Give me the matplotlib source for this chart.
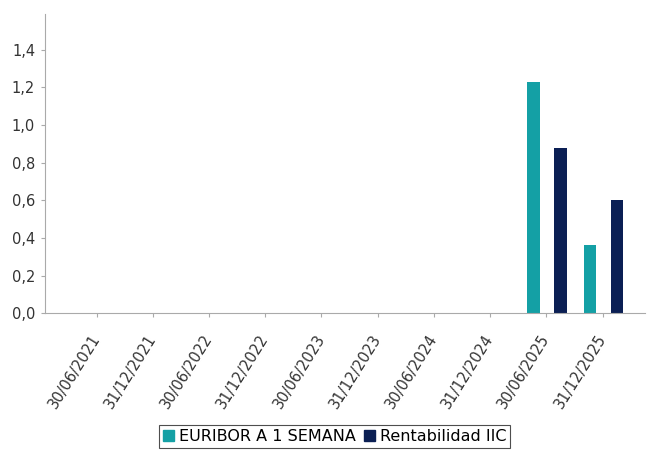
import matplotlib.pyplot as plt
import numpy as np
from matplotlib.patches import Patch

fechas = ["30/06/2021", "31/12/2021", "30/06/2022", "31/12/2022", "30/06/2023",
          "31/12/2023", "30/06/2024", "31/12/2024", "30/06/2025", "31/12/2025"]
euribor = [0, 0, 0, 0, 0, 0, 0, 0, 1.23, 0.36]
rentabilidad = [0, 0, 0, 0, 0, 0, 0, 0, 0.88, 0.60]
yticks = [0.0, 0.2, 0.4, 0.6, 0.8, 1.0, 1.2, 1.4]

c_euribor = "#14a0a5"
c_rent = "#0b1f54"

fig = plt.figure(figsize=(6.5, 4.5), dpi=100)
ax = fig.add_axes([0.069, 0.304, 0.923, 0.665])

x = np.arange(len(fechas))
# no dibujar barras de valor cero
for xi, v in zip(x, euribor):
    if v != 0:
        ax.bar(xi - 0.23, v, width=0.22, color=c_euribor)
for xi, v in zip(x, rentabilidad):
    if v != 0:
        ax.bar(xi + 0.25, v, width=0.22, color=c_rent)

ax.set_xlim(-0.92, 9.75)
ax.set_ylim(0, 1.59)
ax.set_yticks(yticks)
ax.set_yticklabels([f"{t:.1f}".replace(".", ",") for t in yticks], fontsize=10.5, color="#333333")
ax.set_xticks(x)
ax.set_xticklabels(fechas, rotation=58, ha="right", va="center",
                   rotation_mode="anchor", fontsize=10.5, color="#333333")

for s in ["top", "right"]:
    ax.spines[s].set_visible(False)
for s in ["left", "bottom"]:
    ax.spines[s].set_color("#aaaaaa")
    ax.spines[s].set_linewidth(0.8)
ax.tick_params(axis="both", color="#aaaaaa", length=3, width=0.8)
ax.tick_params(axis="x", pad=13)
ax.tick_params(axis="y", pad=4)

handles = [Patch(color=c_euribor, label="EURIBOR A 1 SEMANA"),
           Patch(color=c_rent, label="Rentabilidad IIC")]
leg = fig.legend(handles=handles, loc="upper center", bbox_to_anchor=(0.515, 0.056),
                 ncol=2, fontsize=11.5, frameon=True, fancybox=False,
                 handlelength=0.7, handleheight=0.7, handletextpad=0.3,
                 columnspacing=0.5, borderpad=0.25, borderaxespad=0)
leg.get_frame().set_edgecolor("#222222")
leg.get_frame().set_linewidth(0.8)

fig.savefig("out.png", dpi=100)
